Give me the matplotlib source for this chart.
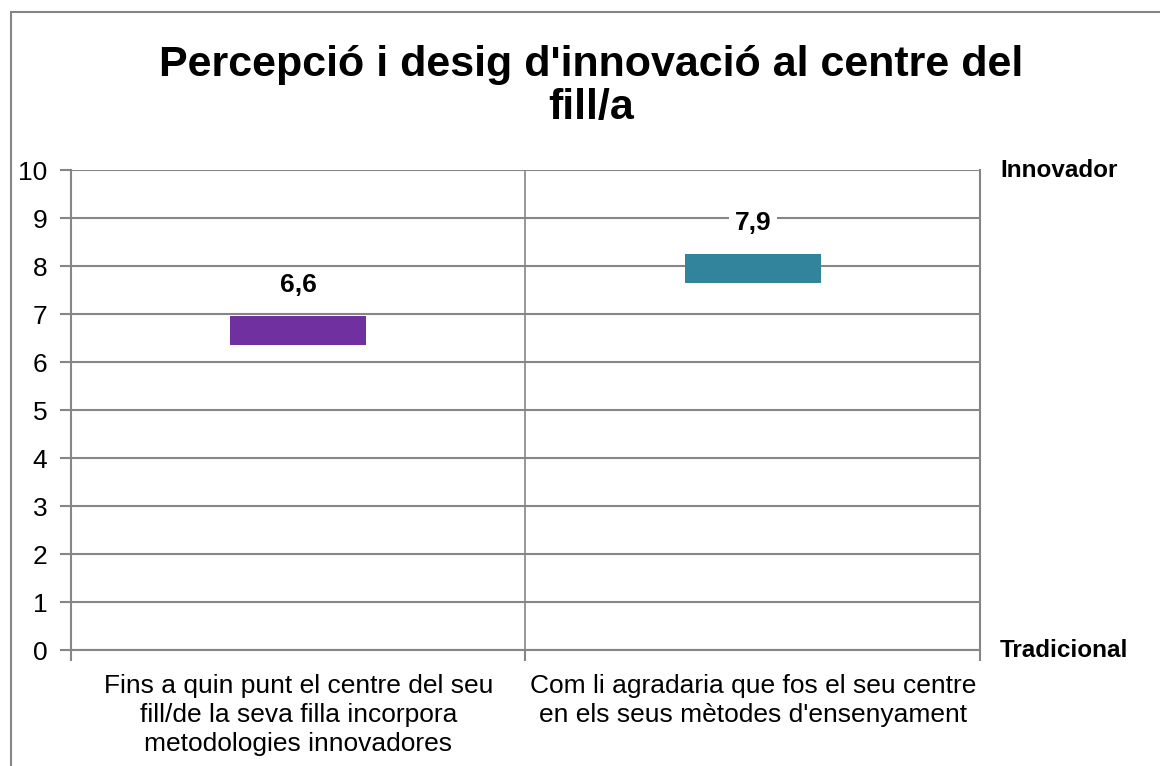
import matplotlib.pyplot as plt
from matplotlib.patches import Rectangle

plt.rcParams['font.family'] = ['Liberation Sans', 'DejaVu Sans']

categories = ["Fins a quin punt el centre del seu\nfill/de la seva filla incorpora\nmetodologies innovadores",
              "Com li agradaria que fos el seu centre\nen els seus mètodes d'ensenyament"]
values = [6.6, 7.9]
colors = ['#7030A0', '#31849B']
yticks = list(range(0, 11))

grid_col = '#868686'

fig = plt.figure(figsize=(11.6, 7.66), dpi=100)
ax = fig.add_axes([0.0612, 0.1514, 0.7836, 0.6266])

x = [0.5, 1.5]
ax.bar(x, 0.6, bottom=[v - 0.25 for v in values], width=0.3, color=colors, zorder=3)
for xi, v in zip(x, values):
    ax.text(xi, v + 1.0, f"{v:.1f}".replace('.', ','), ha='center', va='center',
            fontsize=19, fontweight='bold', zorder=4,
            bbox=dict(facecolor='white', edgecolor='none', pad=4))

ax.set_xlim(0, 2)
ax.set_ylim(0, 10)
ax.set_yticks(yticks)
ax.set_xticks([0, 1, 2])
ax.set_xticklabels([])
ax.set_xticks(x, minor=True)
ax.set_xticklabels(categories, minor=True, fontsize=19, linespacing=1.28)
ax.tick_params(axis='x', which='minor', length=0, pad=17)
ax.tick_params(axis='x', which='major', length=8, color=grid_col, width=1.5)
ax.tick_params(axis='y', length=8, color=grid_col, width=1.5, labelsize=19, pad=9)
ax.grid(axis='y', color=grid_col, linewidth=1.5, zorder=0)
ax.axvline(1, color=grid_col, linewidth=1.2, zorder=0)
for s in ax.spines.values():
    s.set_color(grid_col)
    s.set_linewidth(1.5)
ax.spines['top'].set_visible(False)

ax.text(1.022, 10, 'Innovador', transform=ax.get_yaxis_transform(), ha='left', va='center',
        fontsize=17.5, fontweight='bold')
ax.text(1.022, 0, 'Tradicional', transform=ax.get_yaxis_transform(), ha='left', va='center',
        fontsize=17.5, fontweight='bold')

fig.text(0.51, 0.887, "Percepció i desig d'innovació al centre del\nfill/a", ha='center', va='center',
         fontsize=31, fontweight='bold', linespacing=1.08)

fig.patches.append(Rectangle((11 / 1160, -0.1), 1.2, 1 - 12 / 766 + 0.1, transform=fig.transFigure,
                             fill=False, edgecolor='#868686', linewidth=1.5))

fig.savefig('out.png', dpi=100)
